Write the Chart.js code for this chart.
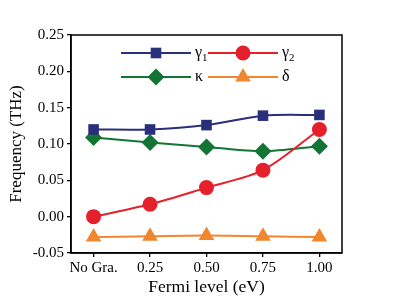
<!DOCTYPE html>
<html>
<head>
<meta charset="utf-8">
<script src="https://cdn.jsdelivr.net/npm/chart.js@4"></script>
<style>
  html, body { margin: 0; padding: 0; background: #fff; }
  #wrap { width: 397px; height: 304px; }
</style>
</head>
<body>
<div id="wrap"><canvas id="freqChart" width="397" height="304"></canvas></div>
<script>
// x axis labels (Fermi level)
var xLabels = ['No Gra.', '0.25', '0.50', '0.75', '1.00'];
var xIndex = [0, 1, 2, 3, 4];

// values (THz)
var gamma1 = [0.120, 0.120, 0.126, 0.139, 0.140];
var gamma2 = [0.000, 0.017, 0.040, 0.064, 0.120];
var kappa = [0.109, 0.102, 0.096, 0.090, 0.097];
var delta = [-0.028, -0.027, -0.026, -0.027, -0.028];

var yTicks = [-0.05, 0.00, 0.05, 0.10, 0.15, 0.20, 0.25];

function pts(arr) {
    return arr.map(function (v, i) { return { x: xIndex[i], y: v }; });
}

var FONT = '"Liberation Serif", "Times New Roman", serif';

// frame + in-plot legend
var framePlugin = {
    id: 'frame',
    afterDraw: function (chart) {
        var c = chart.ctx, a = chart.chartArea;
        c.save();
        c.strokeStyle = '#000';
        c.lineWidth = 1.5;
        c.strokeRect(a.left, a.top, a.right - a.left, a.bottom - a.top);

        // legend: 2 x 2 grid
        var items = [
            { ds: 0, x: 121, y: 53, sub: '1' },
            { ds: 1, x: 208, y: 53, sub: '2' },
            { ds: 2, x: 121, y: 77 },
            { ds: 3, x: 208, y: 77 }
        ];
        items.forEach(function (it) {
            var ds = chart.data.datasets[it.ds];
            var len = 70;
            c.strokeStyle = ds.borderColor;
            c.lineWidth = 2;
            c.beginPath();
            c.moveTo(it.x, it.y);
            c.lineTo(it.x + len, it.y);
            c.stroke();
            c.fillStyle = ds.borderColor;
            c.strokeStyle = ds.borderColor;
            c.lineWidth = 0;
            Chart.helpers.drawPoint(c, {
                pointStyle: ds.pointStyle,
                radius: ds.pointRadius,
                borderWidth: 0,
                rotation: 0
            }, it.x + len / 2, it.y);
            c.fillStyle = '#000';
            c.font = '16px ' + FONT;
            c.textBaseline = 'middle';
            c.textAlign = 'left';
            var sym = ds.label.charAt(0);
            c.fillText(sym, it.x + len + 4, it.y);
            if (it.sub) {
                var w = c.measureText(sym).width;
                c.font = '11px ' + FONT;
                c.fillText(it.sub, it.x + len + 4 + w, it.y + 5);
            }
        });
        c.restore();
    }
};

function lineSet(label, data, color, style, r) {
    return {
        label: label,
        data: pts(data),
        borderColor: color,
        backgroundColor: color,
        pointBackgroundColor: color,
        pointBorderColor: color,
        pointBorderWidth: 0,
        pointStyle: style,
        pointRadius: r,
        borderWidth: 2,
        tension: 0.3
    };
}

var ctx = document.getElementById('freqChart').getContext('2d');
var myChart = new Chart(ctx, {
    type: 'line',
    data: {
        datasets: [
            lineSet('γ1', gamma1, '#2a2f7c', 'rect', 7.5),
            lineSet('γ2', gamma2, '#e5202c', 'circle', 7.5),
            lineSet('κ', kappa, '#137535', 'rectRot', 8.5),
            lineSet('δ', delta, '#f0862e', 'triangle', 9)
        ]
    },
    options: {
        responsive: false,
        animation: false,
        layout: { padding: { left: 2, top: 35, right: 55, bottom: 2 } },
        plugins: {
            legend: { display: false },
            tooltip: { enabled: false }
        },
        scales: {
            x: {
                type: 'linear',
                min: -0.4,
                max: 4.4,
                afterBuildTicks: function (axis) {
                    axis.ticks = xIndex.map(function (v) { return { value: v }; });
                },
                afterFit: function (axis) { axis.height = 49; },
                grid: { drawOnChartArea: false, tickLength: 4, color: '#000', lineWidth: 1.3 },
                border: { color: '#000', width: 1.5 },
                ticks: {
                    color: '#000',
                    font: { family: FONT, size: 15 },
                    padding: 2,
                    callback: function (v) { return xLabels[v]; }
                },
                title: {
                    display: true,
                    text: 'Fermi level (eV)',
                    color: '#000',
                    font: { family: FONT, size: 17.5 },
                    padding: { top: 1 }
                }
            },
            y: {
                min: -0.05,
                max: 0.25,
                afterBuildTicks: function (axis) {
                    axis.ticks = yTicks.map(function (v) { return { value: v }; });
                },
                afterFit: function (axis) { axis.width = 69; },
                grid: { drawOnChartArea: false, tickLength: 4, color: '#000', lineWidth: 1.3 },
                border: { color: '#000', width: 1.5 },
                ticks: {
                    color: '#000',
                    font: { family: FONT, size: 15 },
                    padding: 3,
                    callback: function (v) { return v.toFixed(2); }
                },
                title: {
                    display: true,
                    text: 'Frequency (THz)',
                    color: '#000',
                    font: { family: FONT, size: 17 },
                    padding: { bottom: 2 }
                }
            }
        }
    },
    plugins: [framePlugin]
});
</script>
</body>
</html>
